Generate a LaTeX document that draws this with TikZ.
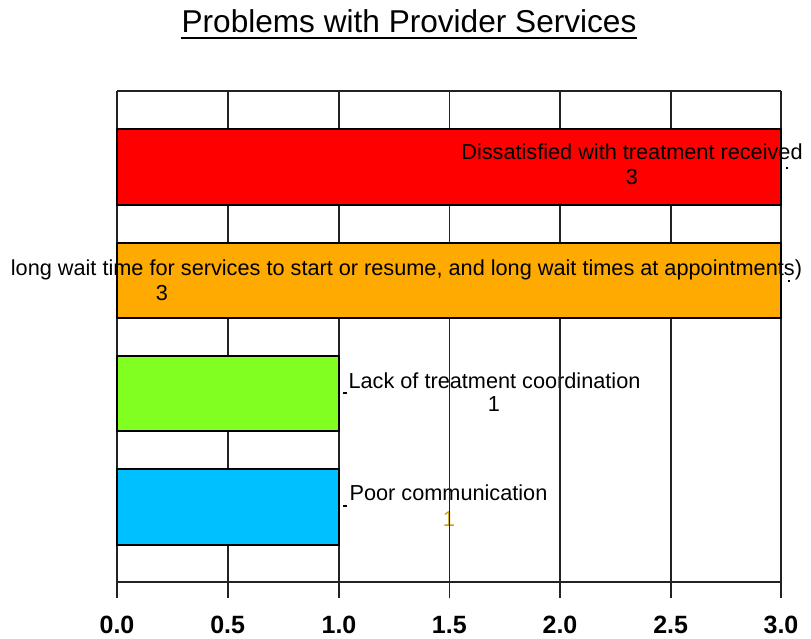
\documentclass[tikz,border=0pt]{standalone}
\usepackage{fontspec}
\setmainfont{Liberation Sans}
\definecolor{barred}{HTML}{FF0000}
\definecolor{barorange}{HTML}{FFAA00}
\definecolor{bargreen}{HTML}{80FF20}
\definecolor{barblue}{HTML}{00C0FF}
\definecolor{gridgray}{HTML}{222222}
\definecolor{oneyellow}{HTML}{C8A000}
\begin{document}
\begin{tikzpicture}[x=1pt,y=-1pt,
  grid/.style={draw=gridgray,line width=1.6pt},
  bar/.style={draw=black,line width=1.6pt},
  lbl/.style={inner sep=0pt,anchor=base,font=\fontsize{21.7}{26}\selectfont},
  tick/.style={inner sep=0pt,anchor=base,font=\fontsize{25}{30}\selectfont\bfseries},
  leader/.style={fill=black,inner sep=0pt,minimum width=2pt,minimum height=2pt}]
\useasboundingbox (0,0) rectangle (811,639);

% title
\node[inner sep=0pt,anchor=base,font=\fontsize{31.6}{38}\selectfont] (title) at (409,33) {Problems with Provider Services};
\draw[line width=2pt] ([yshift=-5.5pt]title.base west) -- ([yshift=-5.5pt]title.base east);

% full grid lines and axis
\foreach \x in {117,227.7,339,449.3,560,670.7,781}
  \draw[grid] (\x,91) -- (\x,598);
\draw[grid] (117,91) -- (781,91);
\draw[grid] (117,582) -- (781,582);

% bar fills
\fill[barred]    (117,129) rectangle (781,205);
\fill[barorange] (117,243) rectangle (781,318);
\fill[bargreen]  (117,356) rectangle (339,431);
\fill[barblue]   (117,469) rectangle (339,545);

% data labels
\node[lbl] (l1a) at (632,160) {Dissatisfied with treatment received};
\node[lbl] (l1b) at (632,185) {3};
\node[lbl] (l2a) at (406.5,275) {long wait time for services to start or resume, and long wait times at appointments)};
\node[lbl] (l2b) at (162,300) {3};
\node[lbl] (l3a) at (494.5,388) {Lack of treatment coordination};
\node[lbl] (l3b) at (494,411) {1};
\node[lbl] (l4a) at (448.5,500) {Poor communication};
\node[lbl,text=oneyellow] (l4b) at (449,526) {1};

% leader marks
\node[leader] (m1) at (787,168) {};
\node[leader] (m2) at (789,281) {};
\node[leader,minimum width=4pt,minimum height=1.5pt] (m3) at (345,393) {};
\node[leader,minimum width=4pt,minimum height=1.5pt] (m4) at (345,506) {};

% grid segments outside the bars, over the labels
\foreach \x in {339,449.3,560,670.7}{
  \draw[grid] (\x,91) -- (\x,129);
  \draw[grid] (\x,205) -- (\x,243);
  \draw[grid] (\x,318) -- (\x,598);
}
\draw[grid] (227.7,91) -- (227.7,129);
\draw[grid] (227.7,205) -- (227.7,243);
\draw[grid] (227.7,318) -- (227.7,356);
\draw[grid] (227.7,431) -- (227.7,469);
\draw[grid] (227.7,545) -- (227.7,598);
\draw[grid] (117,91) -- (117,598);
\draw[grid] (781,91) -- (781,598);

% bar outlines
\draw[bar] (117,129) rectangle (781,205);
\draw[bar] (117,243) rectangle (781,318);
\draw[bar] (117,356) rectangle (339,431);
\draw[bar] (117,469) rectangle (339,545);

% tick labels
\node[tick] (t0) at (117,633) {0.0};
\node[tick] (t1) at (227.7,633) {0.5};
\node[tick] (t2) at (339,633) {1.0};
\node[tick] (t3) at (449.3,633) {1.5};
\node[tick] (t4) at (560,633) {2.0};
\node[tick] (t5) at (670.7,633) {2.5};
\node[tick] (t6) at (781,633) {3.0};
\end{tikzpicture}
\end{document}
